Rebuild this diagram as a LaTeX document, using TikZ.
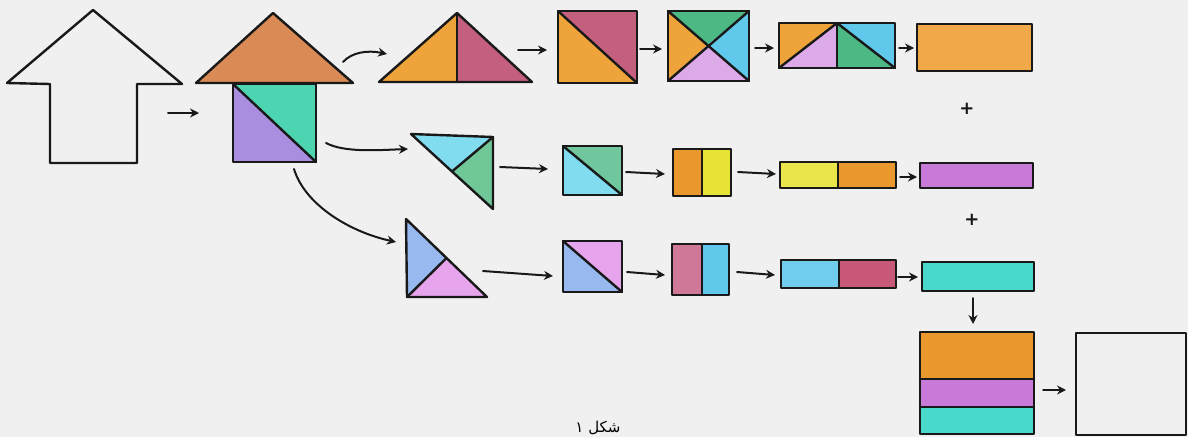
\documentclass[tikz,border=0pt]{standalone}
\usepackage{fontspec}
\usetikzlibrary{arrows.meta}
\newfontfamily\arabicfont[Script=Arabic]{DejaVu Sans}
\newfontfamily\plusfont{DejaVu Sans}
\TeXXeTstate=1
\definecolor{bg}{HTML}{F0F0F0}
\definecolor{roof}{HTML}{D98A55}
\definecolor{mint}{HTML}{4DD4B0}
\definecolor{purp}{HTML}{A98EE0}
\definecolor{org}{HTML}{EEA43A}
\definecolor{mag}{HTML}{C4607E}
\definecolor{grn}{HTML}{4CB884}
\definecolor{sky}{HTML}{60C8EA}
\definecolor{lav}{HTML}{DCAAE8}
\definecolor{orgB}{HTML}{F0A848}
\definecolor{cyanL}{HTML}{80DCEE}
\definecolor{grnL}{HTML}{70C898}
\definecolor{orgC}{HTML}{E8982C}
\definecolor{yel}{HTML}{E6E236}
\definecolor{vio}{HTML}{C87AD8}
\definecolor{blu}{HTML}{98B8F0}
\definecolor{pnk}{HTML}{E6A4EC}
\definecolor{rose}{HTML}{D07898}
\definecolor{crim}{HTML}{C85878}
\definecolor{turq}{HTML}{48D8CC}
\begin{document}
\begin{tikzpicture}[x=1pt,y=-1pt,line join=round,line cap=round,
  piece/.style={draw=black!90,line width=2.4pt},
  arr/.style={-{Stealth[length=9pt,width=9pt]},line width=2pt,black!90},
  plus/.style={font=\plusfont\bfseries\fontsize{18}{18}\selectfont,inner sep=0pt,text=black!90}]
\fill[bg] (0,0) rectangle (1188,437);
\useasboundingbox (0,0) rectangle (1188,437);
% house outline
\draw[piece] (93,10) -- (182,84) -- (137,84) -- (137,163) -- (50,163) -- (50,84) -- (7,83) -- cycle;
\coordinate (a1s) at (168,113); \coordinate (a1e) at (199,113);
\draw[arr] (a1s) -- (a1e);
% coloured house
\filldraw[piece,fill=roof] (196,83) -- (273,13) -- (353,83) -- cycle;
\fill[mint] (233,84) -- (316,84) -- (316,162) -- cycle;
\fill[purp] (233,84) -- (233,162) -- (316,162) -- cycle;
\draw[piece] (233,84) rectangle (316,162);
\draw[piece] (233,84) -- (316,162);
% row 1
\coordinate (c1s) at (343,62); \coordinate (c1e) at (387,54);
\draw[arr] (c1s) .. controls (352,52) and (368,50) .. (c1e);
\fill[org] (379,82) -- (457,13) -- (457,82) -- cycle;
\fill[mag] (457,13) -- (532,82) -- (457,82) -- cycle;
\draw[piece] (379,82) -- (457,13) -- (532,82) -- cycle;
\draw[piece] (457,13) -- (457,82);
\coordinate (a2s) at (518,50); \coordinate (a2e) at (547,50);
\draw[arr] (a2s) -- (a2e);
\fill[mag] (558,11) -- (637,11) -- (637,83) -- cycle;
\fill[org] (558,11) -- (558,83) -- (637,83) -- cycle;
\draw[piece] (558,11) rectangle (637,83);
\draw[piece] (558,11) -- (637,83);
\coordinate (a3s) at (640,49); \coordinate (a3e) at (662,49);
\draw[arr] (a3s) -- (a3e);
\coordinate (cx) at (707,45);
\fill[grn] (668,11) -- (749,11) -- (cx) -- cycle;
\fill[sky] (749,11) -- (749,81) -- (cx) -- cycle;
\fill[lav] (749,81) -- (668,81) -- (cx) -- cycle;
\fill[org] (668,81) -- (668,11) -- (cx) -- cycle;
\draw[piece] (668,11) rectangle (749,81);
\draw[piece] (668,11) -- (749,81);
\draw[piece] (749,11) -- (668,81);
\coordinate (a4s) at (755,48); \coordinate (a4e) at (774,48);
\draw[arr] (a4s) -- (a4e);
\fill[org] (779,23) -- (837,23) -- (779,68) -- cycle;
\fill[lav] (837,23) -- (837,68) -- (779,68) -- cycle;
\fill[sky] (837,23) -- (895,23) -- (895,68) -- cycle;
\fill[grn] (837,23) -- (895,68) -- (837,68) -- cycle;
\draw[piece] (779,23) rectangle (895,68);
\draw[piece] (837,23) -- (837,68);
\draw[piece] (779,68) -- (837,23) -- (895,68);
\coordinate (a5s) at (899,48); \coordinate (a5e) at (914,48);
\draw[arr] (a5s) -- (a5e);
\filldraw[piece,fill=orgB] (917,24) rectangle (1032,71);
\node[plus] (p1) at (967,109) {+};
% row 2
\coordinate (c2s) at (326,143); \coordinate (c2e) at (408,149);
\draw[arr] (c2s) .. controls (345,153) and (380,150) .. (c2e);
\coordinate (m6) at (452,171.5);
\fill[cyanL] (411,134) -- (493,137) -- (m6) -- cycle;
\fill[grnL] (493,137) -- (493,209) -- (m6) -- cycle;
\draw[piece] (411,134) -- (493,137) -- (493,209) -- cycle;
\draw[piece] (493,137) -- (m6);
\coordinate (b1s) at (500,167); \coordinate (b1e) at (548,169);
\draw[arr] (b1s) -- (b1e);
\fill[grn!80!white] (563,146) -- (622,146) -- (622,195) -- cycle;
\fill[cyanL] (563,146) -- (563,195) -- (622,195) -- cycle;
\draw[piece] (563,146) rectangle (622,195);
\draw[piece] (563,146) -- (622,195);
\coordinate (b2s) at (626,172); \coordinate (b2e) at (665,174);
\draw[arr] (b2s) -- (b2e);
\fill[orgC] (673,149) rectangle (702,196);
\fill[yel] (702,149) rectangle (731,196);
\draw[piece] (673,149) rectangle (731,196);
\draw[piece] (702,149) -- (702,196);
\coordinate (b3s) at (738,172); \coordinate (b3e) at (776,174);
\draw[arr] (b3s) -- (b3e);
\fill[yel!90!white] (780,162) rectangle (838,188);
\fill[orgC] (838,162) rectangle (896,188);
\draw[piece] (780,162) rectangle (896,188);
\draw[piece] (838,162) -- (838,188);
\coordinate (b4s) at (900,177); \coordinate (b4e) at (917,177);
\draw[arr] (b4s) -- (b4e);
\filldraw[piece,fill=vio] (920,163) rectangle (1033,188);
\node[plus] (p2) at (972,220) {+};
% row 3
\coordinate (c3s) at (294,169); \coordinate (c3e) at (396,242);
\draw[arr] (c3s) .. controls (305,205) and (350,232) .. (c3e);
\coordinate (m11) at (446.5,258);
\fill[blu] (406,219) -- (m11) -- (407,297) -- cycle;
\fill[pnk] (407,297) -- (m11) -- (487,297) -- cycle;
\draw[piece] (406,219) -- (487,297) -- (407,297) -- cycle;
\draw[piece] (407,297) -- (m11);
\coordinate (d1s) at (483,271); \coordinate (d1e) at (553,276);
\draw[arr] (d1s) -- (d1e);
\fill[pnk] (563,241) -- (622,241) -- (622,292) -- cycle;
\fill[blu] (563,241) -- (563,292) -- (622,292) -- cycle;
\draw[piece] (563,241) rectangle (622,292);
\draw[piece] (563,241) -- (622,292);
\coordinate (d2s) at (627,272); \coordinate (d2e) at (665,275);
\draw[arr] (d2s) -- (d2e);
\fill[rose] (672,244) rectangle (702,295);
\fill[sky] (702,244) rectangle (729,295);
\draw[piece] (672,244) rectangle (729,295);
\draw[piece] (702,244) -- (702,295);
\coordinate (d3s) at (737,272); \coordinate (d3e) at (775,275);
\draw[arr] (d3s) -- (d3e);
\fill[sky!90!white] (781,260) rectangle (839,288);
\fill[crim] (839,260) rectangle (896,288);
\draw[piece] (781,260) rectangle (896,288);
\draw[piece] (839,260) -- (839,288);
\coordinate (d4s) at (898,277); \coordinate (d4e) at (918,277);
\draw[arr] (d4s) -- (d4e);
\filldraw[piece,fill=turq] (922,262) rectangle (1034,291);
% final
\coordinate (e1s) at (973,298); \coordinate (e1e) at (973,324);
\draw[arr] (e1s) -- (e1e);
\fill[orgC] (920,332) rectangle (1034,379);
\fill[vio] (920,379) rectangle (1034,407);
\fill[turq] (920,407) rectangle (1034,434);
\draw[piece] (920,332) rectangle (1034,434);
\draw[piece] (920,379) -- (1034,379);
\draw[piece] (920,407) -- (1034,407);
\coordinate (e2s) at (1043,390); \coordinate (e2e) at (1066,390);
\draw[arr] (e2s) -- (e2e);
\draw[piece] (1076,333) rectangle (1186,435);
\node[anchor=south,inner sep=0pt] (cap) at (598,435) {\arabicfont\fontsize{15}{18}\selectfont\beginR شکل ۱\endR};
\end{tikzpicture}
\end{document}
